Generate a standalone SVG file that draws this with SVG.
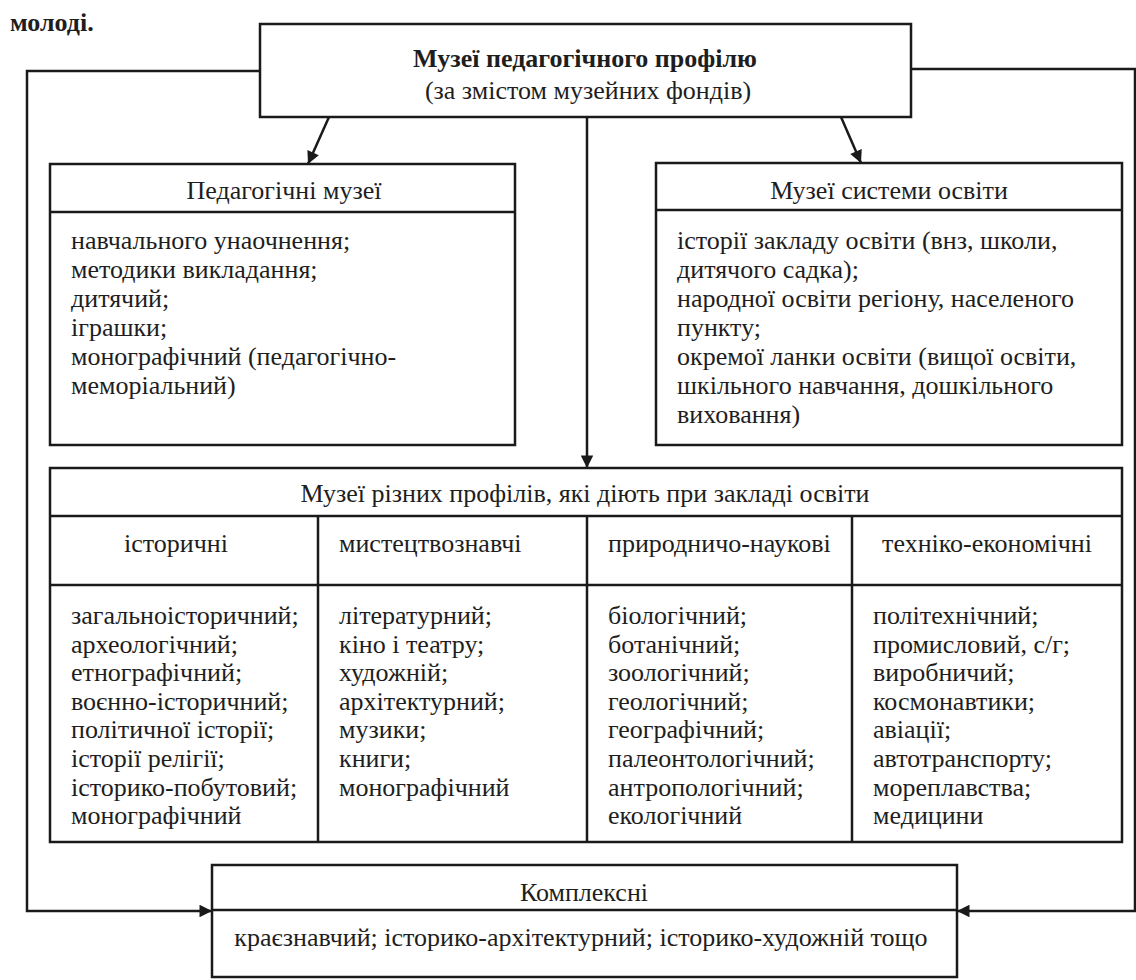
<svg xmlns="http://www.w3.org/2000/svg" width="1136" height="980" viewBox="0 0 1136 980">
<style>
text{font-family:"Liberation Serif","Times New Roman",serif;font-size:26px;fill:#1e1e1e}
.b{font-weight:bold}
.c{text-anchor:middle}
.box{fill:#fff;stroke:#1a1a1a;stroke-width:2.5}
.ln{fill:none;stroke:#1a1a1a;stroke-width:2.5}
</style>
<defs>
<marker id="ah" viewBox="0 0 10 10" refX="10" refY="5" markerWidth="5.5" markerHeight="5" orient="auto" markerUnits="strokeWidth">
<path d="M0,0 L10,5 L0,10 z" fill="#1a1a1a"/>
</marker>
</defs>
<rect width="1136" height="980" fill="#fff"/>
<text x="10" y="31" class="b">молоді.</text>

<g id="connectors">
<path class="ln" d="M260,71 H27 V911 H212" marker-end="url(#ah)"/>
<path class="ln" d="M911,69 H1135 V911 H957" marker-end="url(#ah)"/>
<path class="ln" d="M329,117 L308,164" marker-end="url(#ah)"/>
<path class="ln" d="M841,117 L861,163" marker-end="url(#ah)"/>
<path class="ln" d="M587,117 V468" marker-end="url(#ah)"/>
</g>

<g id="top">
<rect class="box" x="260" y="24" width="651" height="93"/>
<text x="585" y="67" class="b c">Музеї педагогічного профілю</text>
<text x="588" y="99" class="c">(за змістом музейних фондів)</text>
</g>

<g id="pedagogical">
<rect class="box" x="50" y="164" width="465" height="281"/>
<line class="ln" x1="50" y1="212" x2="515" y2="212"/>
<text x="284" y="199" class="c">Педагогічні музеї</text>
<text x="71" y="249">навчального унаочнення;</text>
<text x="71" y="278">методики викладання;</text>
<text x="71" y="307">дитячий;</text>
<text x="71" y="336">іграшки;</text>
<text x="71" y="365">монографічний (педагогічно-</text>
<text x="71" y="394">меморіальний)</text>
</g>

<g id="education-system">
<rect class="box" x="656" y="163" width="466" height="282"/>
<line class="ln" x1="656" y1="210" x2="1122" y2="210"/>
<text x="889" y="199" class="c">Музеї системи освіти</text>
<text x="677" y="249">історії закладу освіти (внз, школи,</text>
<text x="677" y="278">дитячого садка);</text>
<text x="677" y="307">народної освіти регіону, населеного</text>
<text x="677" y="336">пункту;</text>
<text x="677" y="365">окремої ланки освіти (вищої освіти,</text>
<text x="677" y="394">шкільного навчання, дошкільного</text>
<text x="677" y="423">виховання)</text>
</g>

<g id="profiles">
<rect class="box" x="50" y="468" width="1072" height="374"/>
<line class="ln" x1="50" y1="516" x2="1122" y2="516"/>
<line class="ln" x1="50" y1="585" x2="1122" y2="585"/>
<line class="ln" x1="318" y1="516" x2="318" y2="842"/>
<line class="ln" x1="587" y1="516" x2="587" y2="842"/>
<line class="ln" x1="852" y1="516" x2="852" y2="842"/>
<text x="585" y="502" class="c">Музеї різних профілів, які діють при закладі освіти</text>
<text x="176" y="552" class="c">історичні</text>
<text x="339" y="552">мистецтвознавчі</text>
<text x="608" y="552">природничо-наукові</text>
<text x="987" y="552" class="c">техніко-економічні</text>
<g>
<text x="71" y="624">загальноісторичний;</text>
<text x="71" y="653">археологічний;</text>
<text x="71" y="681">етнографічний;</text>
<text x="71" y="710">воєнно-історичний;</text>
<text x="71" y="738">політичної історії;</text>
<text x="71" y="767">історії релігії;</text>
<text x="71" y="796">історико-побутовий;</text>
<text x="71" y="824">монографічний</text>
</g>
<g>
<text x="339" y="624">літературний;</text>
<text x="339" y="653">кіно і театру;</text>
<text x="339" y="681">художній;</text>
<text x="339" y="710">архітектурний;</text>
<text x="339" y="738">музики;</text>
<text x="339" y="767">книги;</text>
<text x="339" y="796">монографічний</text>
</g>
<g>
<text x="608" y="624">біологічний;</text>
<text x="608" y="653">ботанічний;</text>
<text x="608" y="681">зоологічний;</text>
<text x="608" y="710">геологічний;</text>
<text x="608" y="738">географічний;</text>
<text x="608" y="767">палеонтологічний;</text>
<text x="608" y="796">антропологічний;</text>
<text x="608" y="824">екологічний</text>
</g>
<g>
<text x="873" y="624">політехнічний;</text>
<text x="873" y="653">промисловий, с/г;</text>
<text x="873" y="681">виробничий;</text>
<text x="873" y="710">космонавтики;</text>
<text x="873" y="738">авіації;</text>
<text x="873" y="767">автотранспорту;</text>
<text x="873" y="796">мореплавства;</text>
<text x="873" y="824">медицини</text>
</g>
</g>

<g id="complex">
<rect class="box" x="212" y="865" width="745" height="112"/>
<line class="ln" x1="212" y1="910" x2="957" y2="910"/>
<text x="584" y="901" class="c">Комплексні</text>
<text x="581" y="946" class="c">краєзнавчий; історико-архітектурний; історико-художній тощо</text>
</g>
</svg>
